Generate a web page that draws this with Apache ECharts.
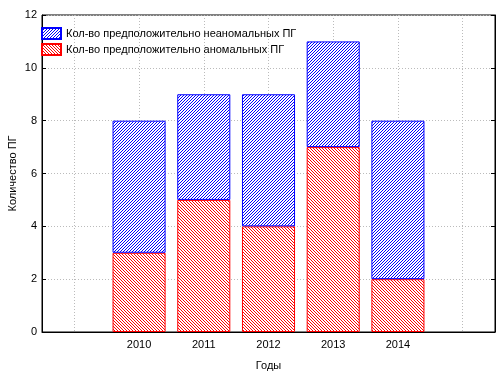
<!DOCTYPE html>
<html>
<head>
<meta charset="utf-8">
<script src="https://cdn.jsdelivr.net/npm/echarts@6/dist/echarts.min.js"></script>
<style>
  html, body { margin: 0; padding: 0; background: #fff; }
  #chart { width: 501px; height: 376px; }
</style>
</head>
<body>
<div id="chart"></div>
<script>
'use strict';

// данные
var years = ['', '2010', '2011', '2012', '2013', '2014', ''];
var anomal = ['-', 3, 5, 4, 7, 2, '-'];
var nonAnomal = ['-', 5, 4, 5, 4, 6, '-'];
var yTicks = [0, 2, 4, 6, 8, 10, 12];

var nameNon = 'Кол-во предположительно неаномальных ПГ';
var nameAn = 'Кол-во предположительно аномальных ПГ';

// штриховка
function hatch(color, forward) {
    var c = document.createElement('canvas');
    c.width = 3;
    c.height = 3;
    var ctx = c.getContext('2d');
    ctx.fillStyle = '#fff';
    ctx.fillRect(0, 0, 3, 3);
    ctx.fillStyle = color;
    for (var i = 0; i < 3; i++) {
        ctx.fillRect(forward ? 2 - i : i, i, 1, 1);
    }
    return { image: c, repeat: 'repeat' };
}

var myChart = echarts.init(document.getElementById('chart'));

var option = {
    animation: false,
    textStyle: { fontFamily: 'Liberation Sans, Arial, sans-serif' },
    grid: {
        left: 42, right: 6, top: 15, bottom: 44,
        containLabel: false,
        outerBoundsMode: 'none',
        show: true, borderColor: '#000', borderWidth: 1
    },
    legend: {
        left: 41, top: 27,
        padding: 0,
        orient: 'vertical',
        icon: 'rect',
        itemWidth: 19, itemHeight: 11, itemGap: 3,
        data: [nameNon, nameAn],
        textStyle: { fontSize: 11, color: '#000' }
    },
    xAxis: {
        type: 'category',
        data: years,
        name: 'Годы',
        nameLocation: 'middle',
        nameGap: 28,
        nameMoveOverlap: false,
        nameTextStyle: { fontSize: 11, color: '#000' },
        axisLine: { lineStyle: { color: '#000' } },
        axisTick: { inside: true, alignWithLabel: true, length: 4, lineStyle: { color: '#000' } },
        axisLabel: { fontSize: 11, color: '#000', margin: 7 },
        splitLine: { show: true, alignWithLabel: true, lineStyle: { color: '#bbb', type: [1, 2] } }
    },
    yAxis: [{
        type: 'value',
        min: 0, max: 12, interval: 2,
        name: 'Количество ПГ',
        nameLocation: 'middle',
        nameGap: 24,
        nameMoveOverlap: false,
        nameTextStyle: { fontSize: 11, color: '#000' },
        axisLine: { show: true, lineStyle: { color: '#000' } },
        axisTick: { show: true, inside: true, length: 4, lineStyle: { color: '#000' } },
        axisLabel: {
            fontSize: 11, color: '#000', margin: 5,
            formatter: function (v) { return yTicks.indexOf(v) >= 0 ? String(v) : ''; }
        },
        splitLine: { show: true, lineStyle: { color: '#bbb', type: [1, 2] } }
    }, {
        type: 'value',
        position: 'right',
        min: 0, max: 12, interval: 2,
        axisLine: { show: true, lineStyle: { color: '#000' } },
        axisTick: { show: true, inside: true, length: 4, lineStyle: { color: '#000' } },
        axisLabel: { show: false },
        splitLine: { show: false }
    }],
    series: [
        {
            name: nameAn,
            type: 'bar',
            stack: 'pg',
            barWidth: '82%',
            data: anomal,
            itemStyle: { color: hatch('#ff0000', false), borderColor: '#ff0000', borderWidth: 1 }
        },
        {
            name: nameNon,
            type: 'bar',
            stack: 'pg',
            barWidth: '82%',
            data: nonAnomal,
            itemStyle: { color: hatch('#0000ff', true), borderColor: '#0000ff', borderWidth: 1 }
        }
    ]
};

myChart.setOption(option);
</script>
</body>
</html>
